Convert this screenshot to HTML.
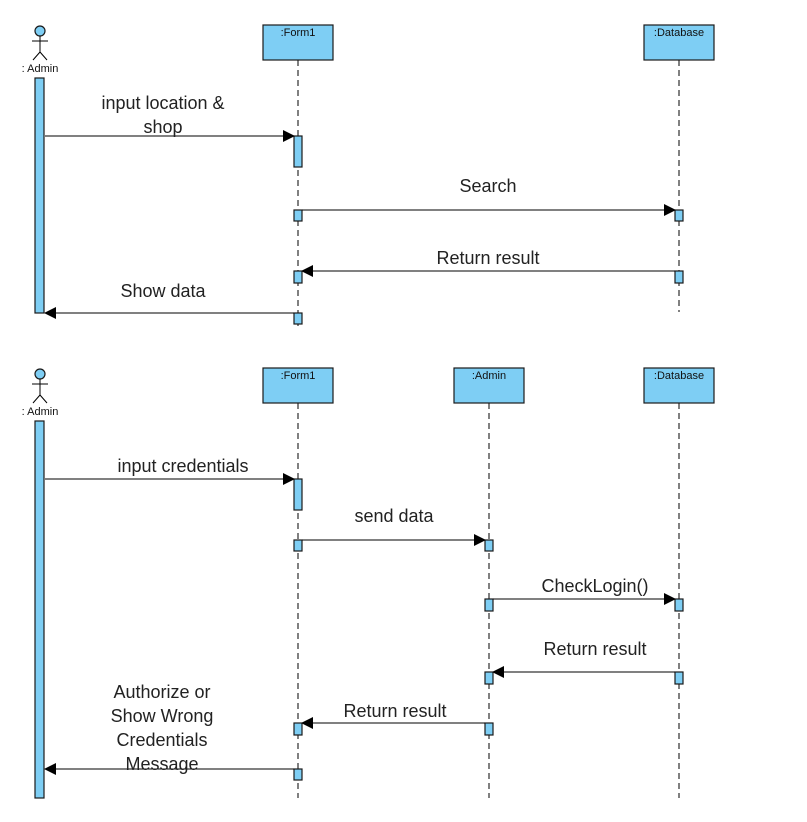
<!DOCTYPE html>
<html><head><style>body{margin:0;background:#fff}</style></head><body>
<svg width="807" height="817" xmlns="http://www.w3.org/2000/svg" font-family="Liberation Sans, sans-serif">
<defs><marker id="a" markerWidth="12" markerHeight="12" refX="11" refY="6" orient="auto" markerUnits="userSpaceOnUse"><path d="M0,0 L12,6 L0,12 z" fill="#000"/></marker></defs>
<g stroke="#000" stroke-width="1" stroke-dasharray="6,4" fill="none">
<line x1="298" y1="60" x2="298" y2="326"/><line x1="679" y1="60" x2="679" y2="312"/>
<line x1="298" y1="403" x2="298" y2="798"/><line x1="489" y1="403" x2="489" y2="798"/><line x1="679" y1="403" x2="679" y2="798"/>
</g>
<g fill="#7ecef4" stroke="#1a1a1a" stroke-width="1.2">
<rect x="263" y="25" width="70" height="35"/><rect x="644" y="25" width="70" height="35"/>
<rect x="263" y="368" width="70" height="35"/><rect x="454" y="368" width="70" height="35"/><rect x="644" y="368" width="70" height="35"/>
<rect x="35" y="78" width="9" height="235"/><rect x="35" y="421" width="9" height="377"/>
<rect x="294" y="136" width="8" height="31"/><rect x="294" y="210" width="8" height="11"/><rect x="675" y="210" width="8" height="11"/>
<rect x="294" y="271" width="8" height="12"/><rect x="675" y="271" width="8" height="12"/><rect x="294" y="313" width="8" height="11"/>
<rect x="294" y="479" width="8" height="31"/><rect x="294" y="540" width="8" height="11"/><rect x="485" y="540" width="8" height="11"/>
<rect x="485" y="599" width="8" height="12"/><rect x="675" y="599" width="8" height="12"/>
<rect x="485" y="672" width="8" height="12"/><rect x="675" y="672" width="8" height="12"/>
<rect x="294" y="723" width="8" height="12"/><rect x="485" y="723" width="8" height="12"/><rect x="294" y="769" width="8" height="11"/>
<circle cx="40" cy="31" r="5"/><circle cx="40" cy="374" r="5"/>
</g>
<g stroke="#000" fill="none">
<path d="M40,36 V52 M32,41 H48 M40,52 L33,60 M40,52 L47,60"/>
<path d="M40,379 V395 M32,384 H48 M40,395 L33,403 M40,395 L47,403"/>
<line x1="45" y1="136" x2="294" y2="136" marker-end="url(#a)"/>
<line x1="302" y1="210" x2="675" y2="210" marker-end="url(#a)"/>
<line x1="675" y1="271" x2="302" y2="271" marker-end="url(#a)"/>
<line x1="294" y1="313" x2="45" y2="313" marker-end="url(#a)"/>
<line x1="45" y1="479" x2="294" y2="479" marker-end="url(#a)"/>
<line x1="302" y1="540" x2="485" y2="540" marker-end="url(#a)"/>
<line x1="493" y1="599" x2="675" y2="599" marker-end="url(#a)"/>
<line x1="675" y1="672" x2="493" y2="672" marker-end="url(#a)"/>
<line x1="485" y1="723" x2="302" y2="723" marker-end="url(#a)"/>
<line x1="294" y1="769" x2="45" y2="769" marker-end="url(#a)"/>
</g>
<g font-size="11" fill="#111" text-anchor="middle">
<text x="40" y="72">: Admin</text><text x="40" y="415">: Admin</text>
<text x="298" y="36">:Form1</text><text x="679" y="36">:Database</text>
<text x="298" y="379">:Form1</text><text x="489" y="379">:Admin</text><text x="679" y="379">:Database</text>
</g>
<g font-size="18" fill="#222" text-anchor="middle">
<text x="163" y="109">input location &amp;</text><text x="163" y="133">shop</text>
<text x="488" y="192">Search</text><text x="488" y="264">Return result</text><text x="163" y="297">Show data</text>
<text x="183" y="472">input credentials</text><text x="394" y="522">send data</text>
<text x="595" y="592">CheckLogin()</text><text x="595" y="655">Return result</text><text x="395" y="717">Return result</text>
<text x="162" y="698">Authorize or</text><text x="162" y="722">Show Wrong</text><text x="162" y="746">Credentials</text><text x="162" y="770">Message</text>
</g>
</svg>
</body></html>
